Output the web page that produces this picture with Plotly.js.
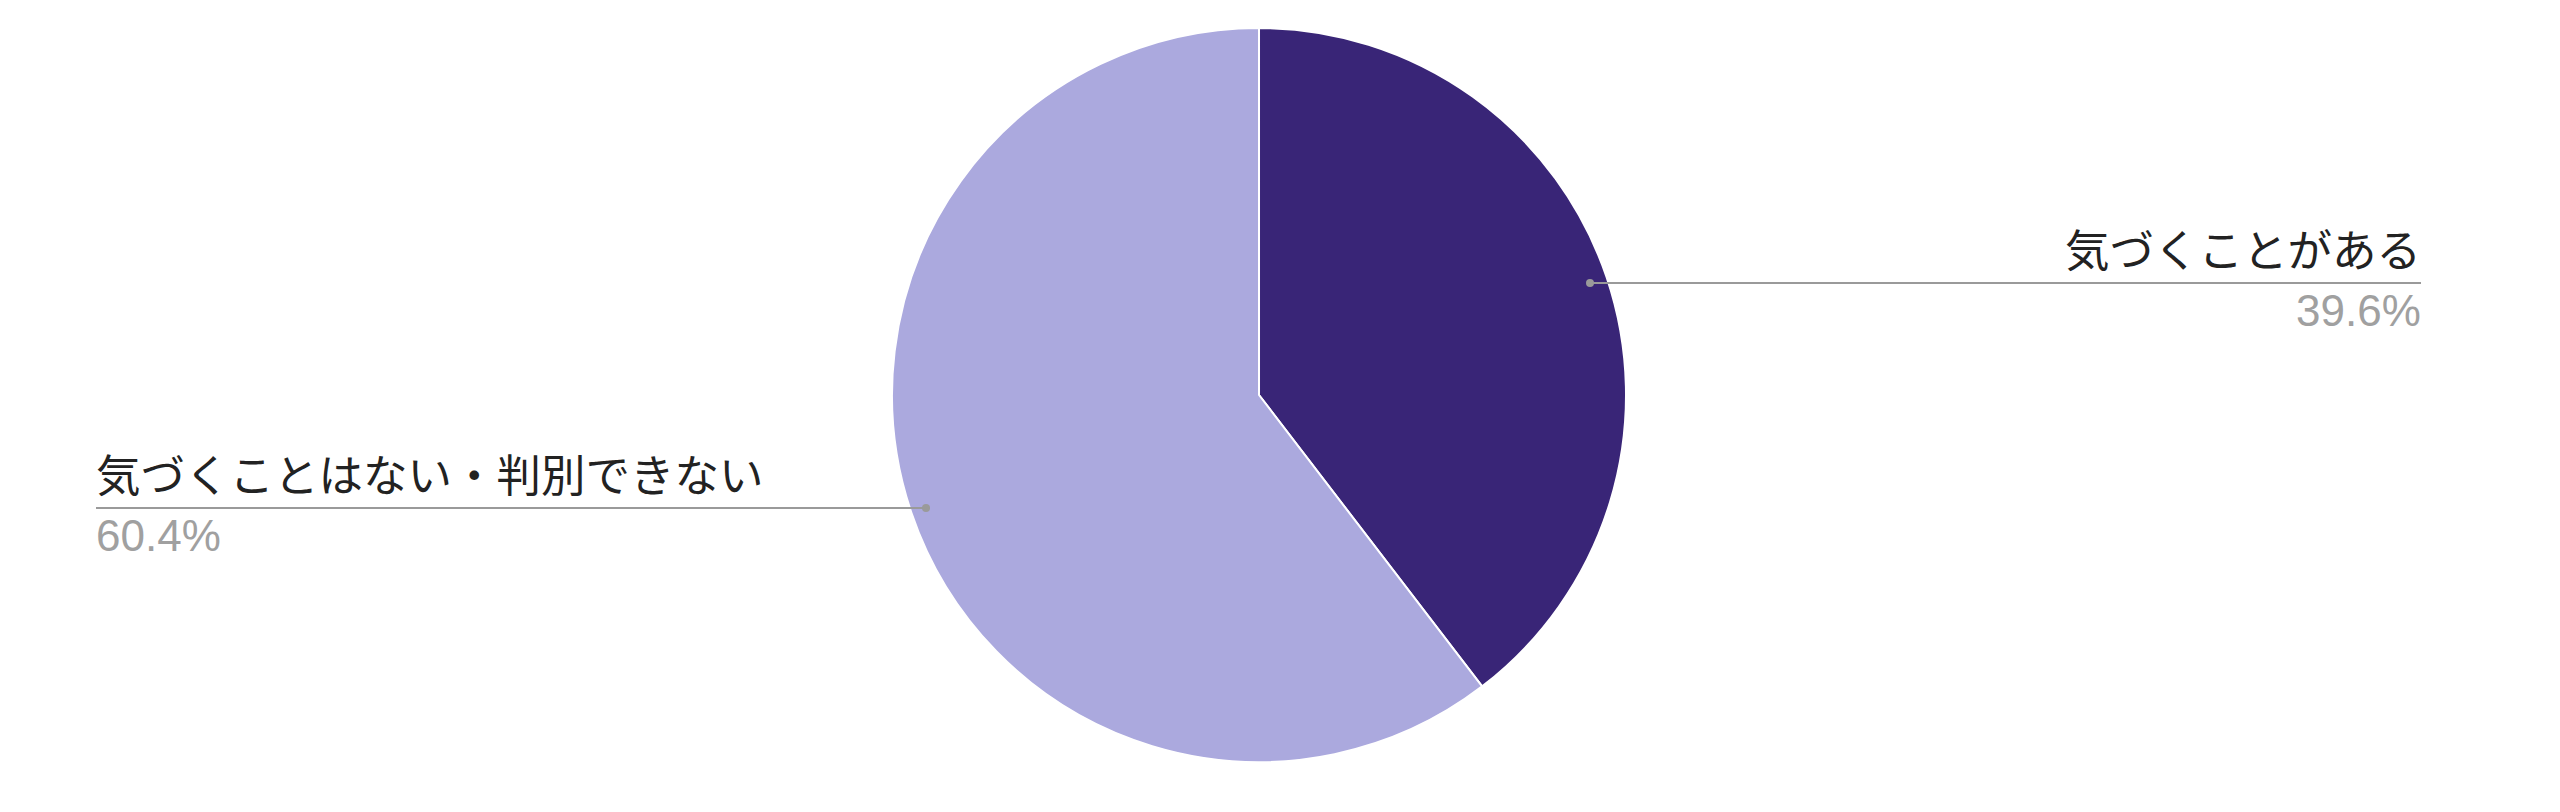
<!DOCTYPE html>
<html><head><meta charset="utf-8">
<script src="https://cdn.plot.ly/plotly-3.0.1.min.js"></script>
<style>html,body{margin:0;padding:0;background:#fff}#c{width:2560px;height:812px}</style>
</head><body><div id="c"></div>
<script>
const categories = ["気づくことがある", "気づくことはない・判別できない"];
const values = [39.6, 60.4];
const colors = ["#392577", "#aba9de"];

const W = 2560, H = 812;
const px = x => x / W;
const py = y => 1 - y / H;

const total = values.reduce((a, b) => a + b, 0);
const pct = values.map(v => (v / total * 100).toFixed(1) + "%");

const trace = {
  type: "pie",
  labels: categories,
  values: values,
  sort: false,
  direction: "clockwise",
  rotation: 0,
  textinfo: "none",
  hoverinfo: "label+percent",
  marker: { colors: colors, line: { color: "#ffffff", width: 2 } },
  domain: { x: [0.3, 0.6836], y: [50 / H, 1 - 28 / H] },
  showlegend: false
};

const lineColor = "#9a9a9a";
const jpFont = "'Noto Sans CJK JP', sans-serif";
const numFont = "'Liberation Sans', Arial, sans-serif";
const shapes = [
  { type: "line", xref: "paper", yref: "paper", x0: px(1590), x1: px(2421), y0: py(283), y1: py(283), line: { color: lineColor, width: 2 } },
  { type: "circle", xref: "paper", yref: "paper", x0: px(1586), x1: px(1594), y0: py(279), y1: py(287), fillcolor: lineColor, line: { width: 0 } },
  { type: "line", xref: "paper", yref: "paper", x0: px(96), x1: px(926), y0: py(508), y1: py(508), line: { color: lineColor, width: 2 } },
  { type: "circle", xref: "paper", yref: "paper", x0: px(922), x1: px(930), y0: py(504), y1: py(512), fillcolor: lineColor, line: { width: 0 } }
];
const annotations = [
  { xref: "paper", yref: "paper", x: px(2422), y: py(281), xanchor: "right", yanchor: "bottom", text: categories[0], showarrow: false, borderpad: 0, font: { family: jpFont, size: 44.5, color: "#222222" } },
  { xref: "paper", yref: "paper", x: px(2422), y: py(285), xanchor: "right", yanchor: "top", text: pct[0], showarrow: false, borderpad: 0, font: { family: numFont, size: 44, color: "#a0a0a0" } },
  { xref: "paper", yref: "paper", x: px(95), y: py(506), xanchor: "left", yanchor: "bottom", text: categories[1], showarrow: false, borderpad: 0, font: { family: jpFont, size: 44.5, color: "#222222" } },
  { xref: "paper", yref: "paper", x: px(95), y: py(510), xanchor: "left", yanchor: "top", text: pct[1], showarrow: false, borderpad: 0, font: { family: numFont, size: 44, color: "#a0a0a0" } }
];

Plotly.newPlot("c", [trace], {
  width: W, height: H,
  margin: { l: 0, r: 0, t: 0, b: 0 },
  paper_bgcolor: "#ffffff",
  shapes: shapes,
  annotations: annotations
}, { displayModeBar: false, staticPlot: true });
</script></body></html>
